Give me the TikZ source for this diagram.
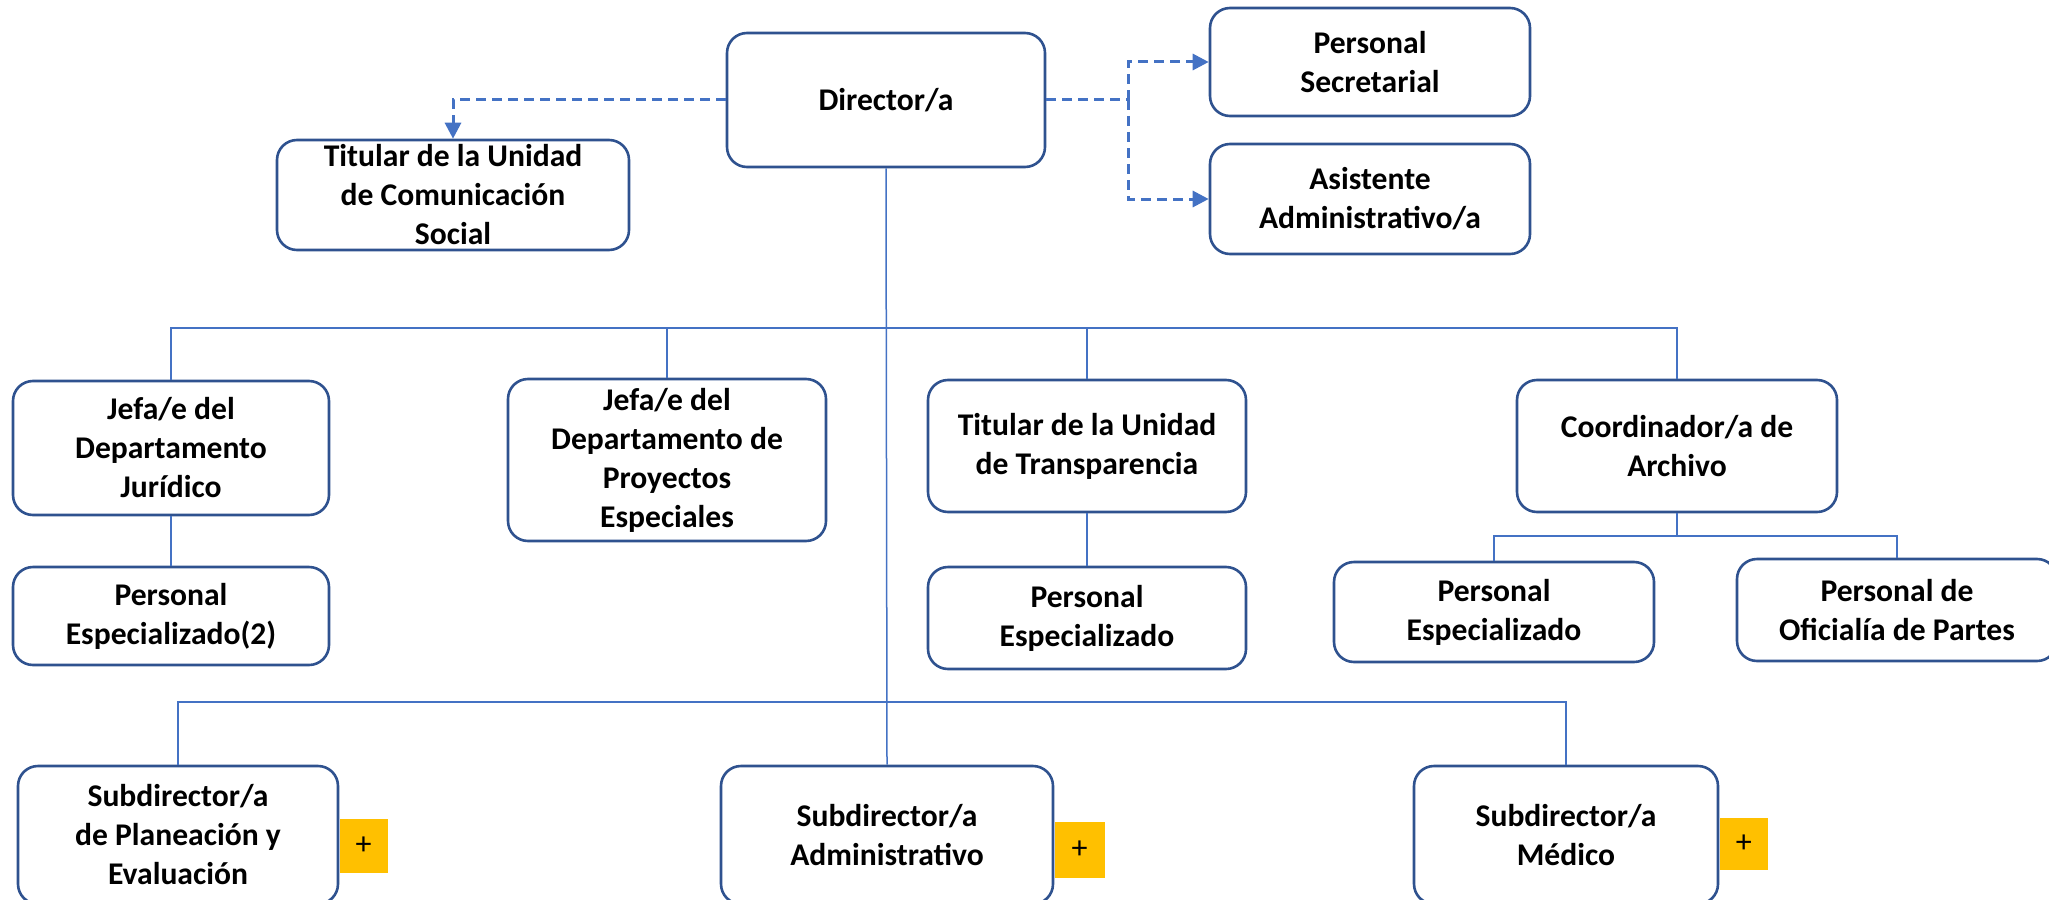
\documentclass[tikz,border=0pt]{standalone}
\usepackage{fontspec}
\setmainfont{Carlito}
\usepackage{xcolor}
\usepackage{tikz}
\usetikzlibrary{arrows.meta, positioning, calc}
\definecolor{boxblue}{HTML}{2F528F}
\definecolor{lineblue}{HTML}{4472C4}
\definecolor{plusgold}{HTML}{FFC000}
\tikzset{
    base/.style={draw=boxblue, line width=1.3pt, font=\fontsize{15.8}{19.5}\selectfont\bfseries, align=center, inner sep=1pt},
    block/.style={base, rectangle, rounded corners=10pt, fill=white},
    plusbox/.style={rectangle, fill=plusgold, font=\fontsize{16}{18}\selectfont, inner sep=0pt, anchor=west},
    line/.style={draw=lineblue, line width=0.75pt},
    dashed-line/.style={draw=lineblue, line width=1.5pt, dash pattern=on 5pt off 3pt},
    dashed-arrow/.style={dashed-line, -{Triangle[length=8pt, width=8pt]}}
}
\begin{document}
\begin{tikzpicture}[x=0.5pt, y=-0.5pt]
    \useasboundingbox (0,0) rectangle (2049,899);
    \node [block, minimum width=159pt, minimum height=67pt] (Dir) at (886,100) {Director/a};
    \node [block, minimum width=176pt, minimum height=55pt] (ComSoc) at (453,195) {Titular de la Unidad\\de Comunicación\\Social};
    \node [block, minimum width=160pt, minimum height=54pt] (Secr) at (1370,62) {Personal\\Secretarial};
    \node [block, minimum width=160pt, minimum height=55pt] (Asist) at (1370,199) {Asistente\\Administrativo/a};

    \node [block, minimum width=158pt, minimum height=67pt] (Jur) at (171,448) {Jefa/e del\\Departamento\\Jurídico};
    \node [block, minimum width=159pt, minimum height=81pt] (Proy) at (667,460) {Jefa/e del\\Departamento de\\Proyectos\\Especiales};
    \node [block, minimum width=159pt, minimum height=66pt] (Transp) at (1087,446) {Titular de la Unidad\\de Transparencia};
    \node [block, minimum width=160pt, minimum height=66pt] (Arch) at (1677,446) {Coordinador/a de\\Archivo};

    \node [block, minimum width=158pt, minimum height=49pt] (EspJur) at (171,616) {Personal\\Especializado(2)};
    \node [block, minimum width=159pt, minimum height=51pt] (EspTr) at (1087,618) {Personal\\Especializado};
    \node [block, minimum width=160pt, minimum height=50pt] (EspArch) at (1494,612) {Personal\\Especializado};
    \node [block, minimum width=160pt, minimum height=51pt] (Ofic) at (1897,610) {Personal de\\Oficialía de Partes};

    \node [block, minimum width=160pt, minimum height=69pt] (SubPl) at (178,835) {Subdirector/a\\de Planeación y\\Evaluación};
    \node [block, minimum width=166pt, minimum height=69pt] (SubAdm) at (887,835) {Subdirector/a\\Administrativo};
    \node [block, minimum width=152pt, minimum height=69pt] (SubMed) at (1566,835) {Subdirector/a\\Médico};

    \node [plusbox, minimum width=24pt, minimum height=27pt] (PlusPl) at ($(SubPl.east)+(0,11)$) {+};
    \node [plusbox, minimum width=25pt, minimum height=28pt] (PlusAdm) at ($(SubAdm.east)+(0,15)$) {+};
    \node [plusbox, minimum width=24pt, minimum height=26pt] (PlusMed) at ($(SubMed.east)+(0,9)$) {+};

    \coordinate (BusTop) at (0,328);
    \coordinate (BusArch) at (0,536);
    \coordinate (BusSub) at (0,702);
    \coordinate (Split) at (1128,100);

    \draw [line] (Dir.south) -- (SubAdm.north);
    \draw [line] (Jur.north) -- (Jur.north |- BusTop) -- (Arch.north |- BusTop) -- (Arch.north);
    \foreach \n in {Proy, Transp}
        \draw [line] (\n.north) -- (\n.north |- BusTop);
    \draw [line] (Jur) -- (EspJur);
    \draw [line] (Transp) -- (EspTr);
    \draw [line] (Arch.south) -- (Arch.south |- BusArch);
    \draw [line] (EspArch.north) -- (EspArch.north |- BusArch) -- (Ofic.north |- BusArch) -- (Ofic.north);
    \draw [line] (SubPl.north) -- (SubPl.north |- BusSub) -- (SubMed.north |- BusSub) -- (SubMed.north);

    \draw [dashed-arrow] (Dir.west) -| (ComSoc.north);
    \draw [dashed-line] (Dir.east) -- (Split);
    \draw [dashed-arrow] (Split) |- (Secr.west);
    \draw [dashed-arrow] (Split) |- (Asist.west);
\end{tikzpicture}
\end{document}
